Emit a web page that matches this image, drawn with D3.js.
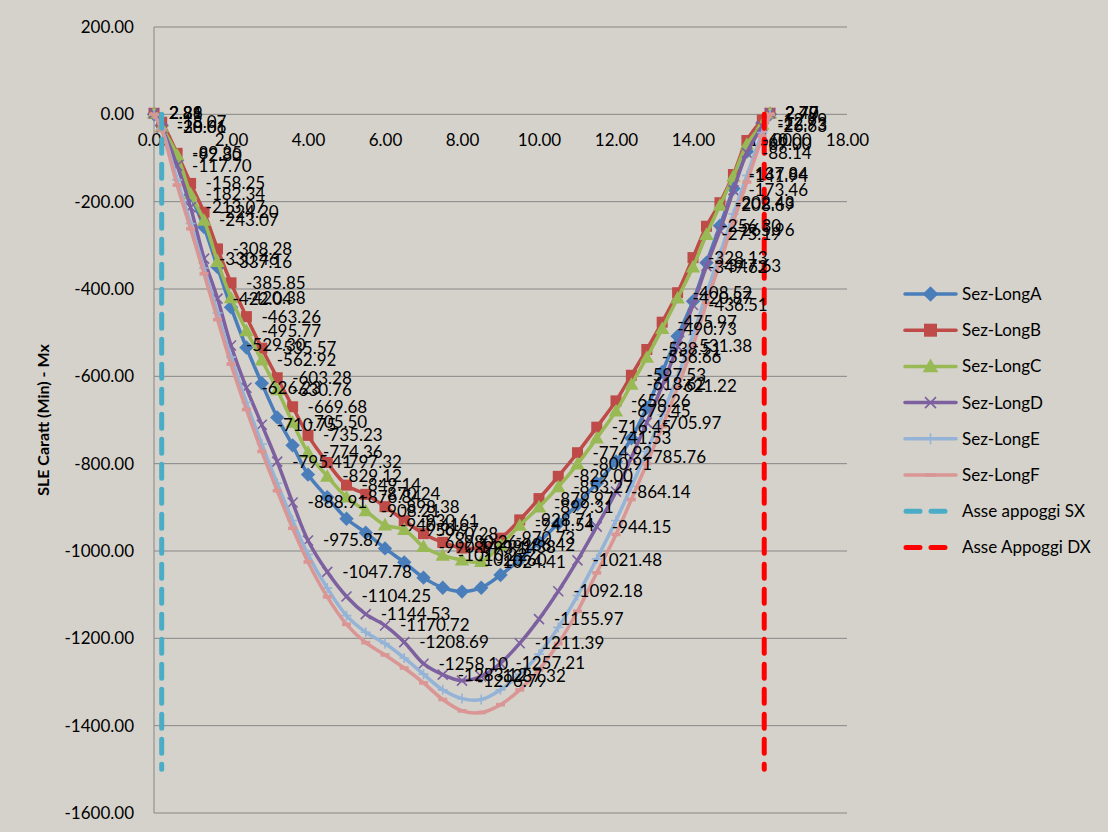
<!DOCTYPE html>
<html>
<head>
<meta charset="utf-8">
<script src="https://cdn.jsdelivr.net/npm/d3@7"></script>
<style>
  html, body { margin: 0; padding: 0; background: #D5D2CB; }
  svg { display: block; }
  text { font-family: Lato, "Open Sans", sans-serif; fill: #000; }
</style>
</head>
<body>
<svg id="chart" width="1108" height="832"></svg>
<script>
// Sections along the beam (m)
const xPos = [0, 0.2, 0.6, 0.95, 1.3, 1.65, 2.0, 2.4, 2.8, 3.2, 3.6,
  4.0, 4.5, 5.0, 5.5, 6.0, 6.5, 7.0, 7.5, 8.0, 8.5, 9.0, 9.5, 10.0, 10.5, 11.0, 11.5, 12.0,
  12.4, 12.8, 13.2, 13.6, 14.0, 14.35, 14.7, 15.05, 15.4, 15.8, 16.0];

// SLE characteristic (min) bending moment Mx per longitudinal section
const sezLongA = [0, -25.40, -105.00, -185.00, -258.15, -350.00, -442.00, -534.00, -616.00, -694.00, -758.00,
  -825.00, -877.00, -926.00, -958.00, -994.00, -1026.00, -1061.00, -1084.00, -1093.00, -1084.00, -1055.00, -1020.00, -980.00, -937.00, -893.00, -845.00, -795.00,
  -742.00, -672.00, -590.00, -508.00, -428.00, -340.00, -255.00, -170.00, -85.00, -20.00, 0];
const sezLongB = [2.29, -18.07, -89.35, -158.25, -224.20, -308.28, -385.85, -463.26, -535.57, -603.28, -669.68,
  -735.23, -797.32, -849.14, -870.24, -898.38, -930.61, -960.28, -980.26, -993.14, -991.38, -970.73, -928.71, -879.97, -829.00, -774.92, -716.45, -656.26,
  -597.53, -538.51, -475.97, -408.52, -328.13, -256.30, -202.43, -137.84, -60.00, -12.99, 2.47];
const sezLongC = [2.81, -28.61, -92.80, -182.34, -243.07, -337.16, -420.38, -495.77, -562.92, -630.76, -705.50,
  -774.36, -829.12, -876.84, -908.21, -940.61, -950.97, -990.14, -1010.22, -1020.60, -1024.41, -986.42, -941.54, -899.31, -853.27, -800.91, -741.53, -679.45,
  -618.62, -556.66, -490.73, -420.87, -349.62, -275.19, -208.69, -141.94, -69.00, -22.93, 2.70];
const sezLongD = [2.86, -30.06, -117.70, -213.07, -330.46, -422.04, -529.30, -626.23, -710.75, -795.41, -888.91,
  -975.87, -1047.78, -1104.25, -1144.53, -1170.72, -1208.69, -1258.10, -1283.12, -1296.79, -1287.32, -1257.21, -1211.39, -1155.97, -1092.18, -1021.48, -944.15, -864.14,
  -785.76, -705.97, -621.22, -531.38, -436.51, -347.63, -265.96, -173.46, -88.14, -26.63, 2.79];
const sezLongE = [0, -33.00, -150.00, -250.00, -352.00, -455.00, -556.00, -660.00, -755.00, -845.00, -930.00,
  -1008.00, -1085.00, -1148.00, -1186.00, -1212.00, -1245.00, -1282.00, -1318.00, -1338.00, -1340.00, -1318.00, -1282.00, -1236.00, -1175.00, -1102.00, -1018.00, -930.00,
  -852.00, -772.00, -688.00, -600.00, -505.00, -410.00, -320.00, -228.00, -140.00, -42.00, 0];
const sezLongF = [0, -36.00, -162.00, -262.00, -365.00, -470.00, -572.00, -676.00, -772.00, -862.00, -948.00,
  -1025.00, -1105.00, -1168.00, -1210.00, -1238.00, -1268.00, -1302.00, -1340.00, -1366.00, -1370.00, -1352.00, -1318.00, -1272.00, -1212.00, -1138.00, -1050.00, -962.00,
  -882.00, -800.00, -715.00, -625.00, -530.00, -432.00, -340.00, -245.00, -155.00, -50.00, 0];

// Support axes (x position, Mx range)
const asseSX = [[0.2, 0], [0.2, -1500]];
const asseDX = [[15.85, 0], [15.85, -1500]];

const xTicks = [0, 2, 4, 6, 8, 10, 12, 14, 16, 18];
const yTicks = [200, 0, -200, -400, -600, -800, -1000, -1200, -1400, -1600];
const yTitle = "SLE Caratt (Min) - Mx";

const series = [
  { name: "Sez-LongA", values: sezLongA, color: "#4A7EBB", marker: "diamond", labels: false },
  { name: "Sez-LongB", values: sezLongB, color: "#BE4B48", marker: "square", labels: true },
  { name: "Sez-LongC", values: sezLongC, color: "#98B954", marker: "triangle", labels: true },
  { name: "Sez-LongD", values: sezLongD, color: "#7D60A0", marker: "x", labels: true },
  { name: "Sez-LongE", values: sezLongE, color: "#95B3D7", marker: "plus", labels: false },
  { name: "Sez-LongF", values: sezLongF, color: "#D99694", marker: "dash", labels: false }
];
const axesLines = [
  { name: "Asse appoggi SX", pts: asseSX, color: "#4BACC6" },
  { name: "Asse Appoggi DX", pts: asseDX, color: "#FF0000" }
];

const svg = d3.select("#chart");
const x = d3.scaleLinear().domain([0, 18]).range([154, 847]);
const y = d3.scaleLinear().domain([-1600, 200]).range([813, 27]);
// Plain hyphen as minus sign, two decimals
const locale = d3.formatLocale({ decimal: ".", thousands: "", grouping: [3], currency: ["", ""], minus: "-" });
const fmt = locale.format(".2f");

// Horizontal gridlines
svg.append("g").selectAll("line").data(yTicks).join("line")
  .attr("x1", x(0)).attr("x2", x(18))
  .attr("y1", d => y(d)).attr("y2", d => y(d))
  .attr("stroke", "#868686").attr("stroke-width", 1);

// Vertical axis line
svg.append("line")
  .attr("x1", x(0)).attr("x2", x(0)).attr("y1", y(200)).attr("y2", y(-1600))
  .attr("stroke", "#868686").attr("stroke-width", 1);

// Y axis labels
const yAxis = svg.append("g").attr("transform", `translate(${x(0)},0)`)
  .call(d3.axisLeft(y).tickValues(yTicks).tickFormat(fmt).tickSize(0).tickPadding(20));
yAxis.select(".domain").remove();
yAxis.selectAll("text").style("font-family", "Lato, sans-serif").style("font-size", "17px").attr("fill", "#000");

// X axis labels crossing at Mx = 0
const xAxis = svg.append("g").attr("transform", `translate(0,${y(0)})`)
  .call(d3.axisBottom(x).tickValues(xTicks).tickFormat(fmt).tickSize(0).tickPadding(20));
xAxis.select(".domain").remove();
xAxis.selectAll("text").style("font-family", "Lato, sans-serif").style("font-size", "17px").attr("fill", "#000");

// Y axis title
svg.append("text")
  .attr("transform", `translate(49,${(y(200) + y(-1600)) / 2}) rotate(-90)`)
  .attr("text-anchor", "middle")
  .style("font-size", "16px").style("font-weight", "bold")
  .text(yTitle);

function drawMarker(g, type, color, cx, cy, s) {
  if (type === "diamond") {
    g.append("path").attr("d", `M${cx},${cy - s * 0.6}L${cx + s * 0.6},${cy}L${cx},${cy + s * 0.6}L${cx - s * 0.6},${cy}Z`)
      .attr("fill", color);
  } else if (type === "square") {
    g.append("rect").attr("x", cx - s / 2).attr("y", cy - s / 2).attr("width", s).attr("height", s)
      .attr("fill", color);
  } else if (type === "triangle") {
    g.append("path").attr("d", `M${cx},${cy - s * 0.6}L${cx + s * 0.6},${cy + s * 0.45}L${cx - s * 0.6},${cy + s * 0.45}Z`)
      .attr("fill", color);
  } else if (type === "x") {
    const h = s * 0.5;
    g.append("path").attr("d", `M${cx - h},${cy - h}L${cx + h},${cy + h}M${cx - h},${cy + h}L${cx + h},${cy - h}`)
      .attr("stroke", color).attr("stroke-width", 1.6).attr("fill", "none");
  } else if (type === "plus") {
    const h = s * 0.5;
    g.append("path").attr("d", `M${cx - h},${cy}L${cx + h},${cy}M${cx},${cy - h}L${cx},${cy + h}`)
      .attr("stroke", color).attr("stroke-width", 1.6).attr("fill", "none");
  } else if (type === "dash") {
    g.append("rect").attr("x", cx - s * 0.45).attr("y", cy - 1.8).attr("width", s * 0.9).attr("height", 3.6)
      .attr("fill", color);
  }
}

const line = d3.line().x(d => x(d[0])).y(d => y(d[1])).curve(d3.curveCatmullRom.alpha(0.5));
const plot = svg.append("g");

series.forEach(s => {
  const pts = xPos.map((xv, i) => [xv, s.values[i]]);
  const g = plot.append("g");
  g.append("path").datum(pts).attr("d", line)
    .attr("fill", "none").attr("stroke", s.color).attr("stroke-width", 3.5)
    .attr("stroke-linejoin", "round").attr("stroke-linecap", "round");
  const size = s.marker === "square" ? 11 : s.marker === "triangle" ? 12 : s.marker === "diamond" ? 12 : 10;
  pts.forEach(p => drawMarker(g, s.marker, s.color, x(p[0]), y(p[1]), size));
});

// Support axes
axesLines.forEach(a => {
  plot.append("line")
    .attr("x1", x(a.pts[0][0])).attr("x2", x(a.pts[1][0]))
    .attr("y1", y(a.pts[0][1])).attr("y2", y(a.pts[1][1]))
    .attr("stroke", a.color).attr("stroke-width", 5)
    .attr("stroke-dasharray", "14,11").attr("stroke-linecap", "round");
});

// Data labels
const labels = svg.append("g");
series.filter(s => s.labels).forEach(s => {
  labels.append("g").selectAll("text").data(xPos.map((xv, i) => [xv, s.values[i]])).join("text")
    .attr("x", d => x(d[0]) + 15)
    .attr("y", d => y(d[1]))
    .attr("dy", "0.35em")
    .style("font-size", "17px")
    .text(d => fmt(d[1]));
});

// Legend
const legend = svg.append("g");
const legendItems = series.map(s => ({ name: s.name, color: s.color, marker: s.marker, dashed: false }))
  .concat(axesLines.map(a => ({ name: a.name, color: a.color, marker: null, dashed: true })));
legendItems.forEach((it, i) => {
  const ly = 294 + i * 36.2;
  const g = legend.append("g");
  if (it.dashed) {
    g.append("line").attr("x1", 906).attr("x2", 955).attr("y1", ly).attr("y2", ly)
      .attr("stroke", it.color).attr("stroke-width", 5)
      .attr("stroke-dasharray", "14,11").attr("stroke-linecap", "round");
  } else {
    g.append("line").attr("x1", 905).attr("x2", 956).attr("y1", ly).attr("y2", ly)
      .attr("stroke", it.color).attr("stroke-width", 3.5).attr("stroke-linecap", "round");
    const size = it.marker === "square" ? 13 : it.marker === "triangle" ? 13 : it.marker === "diamond" ? 13 : 11;
    drawMarker(g, it.marker, it.color, 930.5, ly, size);
  }
  g.append("text").attr("x", 962).attr("y", ly).attr("dy", "0.35em")
    .style("font-size", "17px").text(it.name);
});
</script>
</body>
</html>
